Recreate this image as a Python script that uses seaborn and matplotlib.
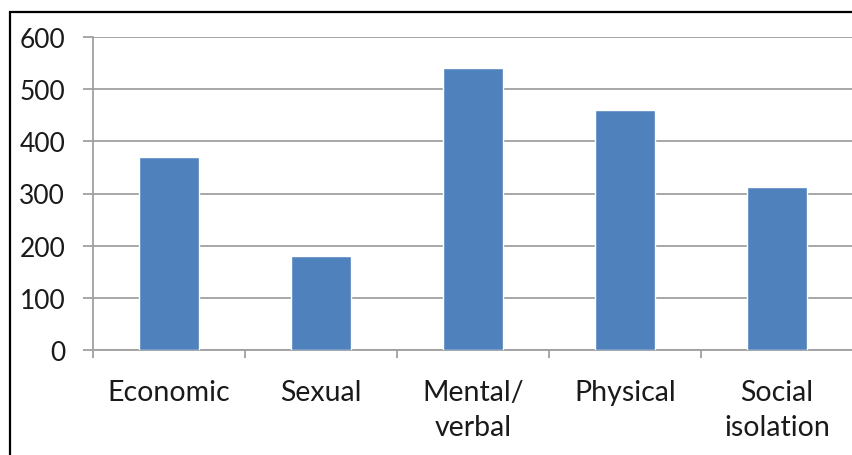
import matplotlib
matplotlib.use("Agg")
import matplotlib.pyplot as plt
import seaborn as sns
import pandas as pd
from matplotlib.patches import Rectangle

# --- Data ---
categories = ["Economic", "Sexual", "Mental/\nverbal", "Physical", "Social\nisolation"]
counts = [370, 180, 540, 460, 312]
y_ticks = [0, 100, 200, 300, 400, 500, 600]

BAR_COLOR = "#4F81BD"
GRID_COLOR = "#A0A0A0"
TEXT_COLOR = "#1A1A1A"

sns.set_theme(style="white")
plt.rcParams["font.family"] = ["Lato", "DejaVu Sans"]

df = pd.DataFrame({"category": categories, "count": counts})

fig = plt.figure(figsize=(8.53, 4.56), dpi=100)
ax = fig.add_axes([93 / 853, 1 - 351 / 456, 1 - 93 / 853, (351 - 38) / 456])

sns.barplot(data=df, x="category", y="count", color=BAR_COLOR,
            width=0.4, saturation=1, ax=ax, zorder=3)

ax.set_ylim(0, 600)
ax.set_xlim(-0.5, len(categories) - 0.5)
ax.set_yticks(y_ticks)
ax.set_xlabel("")
ax.set_ylabel("")

# gridlines and spines in Excel-like gray
ax.yaxis.grid(True, color=GRID_COLOR, linewidth=1.3, zorder=0)
ax.set_axisbelow(True)
for side in ["top", "right"]:
    ax.spines[side].set_visible(False)
for side in ["left", "bottom"]:
    ax.spines[side].set_color(GRID_COLOR)
    ax.spines[side].set_linewidth(1.3)

# category boundary ticks
ax.set_xticks([i - 0.5 for i in range(len(categories) + 1)], minor=True)
ax.tick_params(axis="x", which="minor", bottom=True, length=6, width=1.3,
               color=GRID_COLOR)
ax.tick_params(axis="x", which="major", bottom=False, length=0, pad=21,
               labelsize=20.5, labelcolor=TEXT_COLOR)
ax.tick_params(axis="y", left=True, length=7, width=1.3, color=GRID_COLOR,
               pad=13, labelsize=19, labelcolor=TEXT_COLOR)
for lbl in ax.get_xticklabels():
    lbl.set_linespacing(1.4)

# outer black frame, cut off at right and bottom like the source image
fig.patches.append(Rectangle((10 / 853, -0.1), 1.2, 0.1 + 1 - 13 / 456,
                             transform=fig.transFigure, fill=False,
                             edgecolor="black", linewidth=1.6))

fig.savefig("out.png", dpi=100)
plt.close(fig)
